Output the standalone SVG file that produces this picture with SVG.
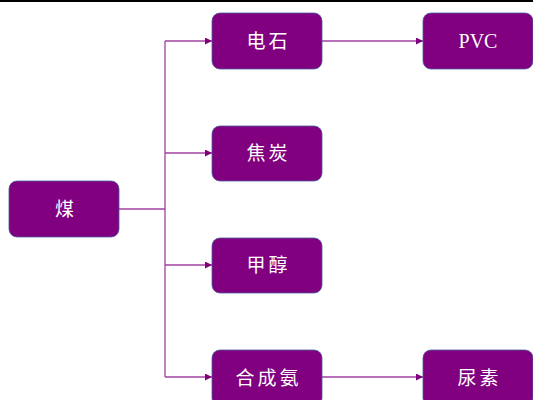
<svg xmlns="http://www.w3.org/2000/svg" width="533" height="400" viewBox="0 0 533 400">
<style>
.n rect{fill:#800080;stroke:#4a5a9a;stroke-width:0.8}
.n text{fill:#fff;font-family:"Liberation Serif","Noto Sans CJK SC",serif;font-size:19px;text-anchor:middle;dominant-baseline:central;letter-spacing:3px}
.n text.l{letter-spacing:0;font-size:20px}
.c{stroke:#a040a0;stroke-width:1.3;fill:none}
</style>
<defs>
<marker id="a" viewBox="0 0 10 10" refX="10" refY="5" markerWidth="7" markerHeight="7" markerUnits="userSpaceOnUse" orient="auto"><path d="M0,0L10,5L0,10z" fill="#800080"/></marker>
</defs>
<rect x="0" y="0" width="533" height="2" fill="#000"/>
<g id="connectors">
<path class="c" d="M119,209H165"/>
<path class="c" d="M165,41V377"/>
<path class="c" d="M165,41H212" marker-end="url(#a)"/>
<path class="c" d="M165,153H212" marker-end="url(#a)"/>
<path class="c" d="M165,265H212" marker-end="url(#a)"/>
<path class="c" d="M165,377H212" marker-end="url(#a)"/>
<path class="c" d="M322,41H423" marker-end="url(#a)"/>
<path class="c" d="M322,377H423" marker-end="url(#a)"/>
</g>
<g id="coal" class="n"><rect x="9" y="181" width="110" height="56" rx="8"/><text x="66" y="209">煤</text></g>
<g id="carbide" class="n"><rect x="212" y="13" width="110" height="56" rx="8"/><text x="268.5" y="41">电石</text></g>
<g id="pvc" class="n"><rect x="423" y="13" width="110" height="56" rx="8"/><text class="l" x="478" y="41">PVC</text></g>
<g id="coke" class="n"><rect x="212" y="126" width="110" height="55" rx="8"/><text x="268.5" y="153">焦炭</text></g>
<g id="methanol" class="n"><rect x="212" y="238" width="110" height="55" rx="8"/><text x="268.5" y="265">甲醇</text></g>
<g id="ammonia" class="n"><rect x="212" y="350" width="110" height="56" rx="8"/><text x="268.5" y="378">合成氨</text></g>
<g id="urea" class="n"><rect x="423" y="350" width="110" height="56" rx="8"/><text x="479.5" y="378">尿素</text></g>
</svg>
